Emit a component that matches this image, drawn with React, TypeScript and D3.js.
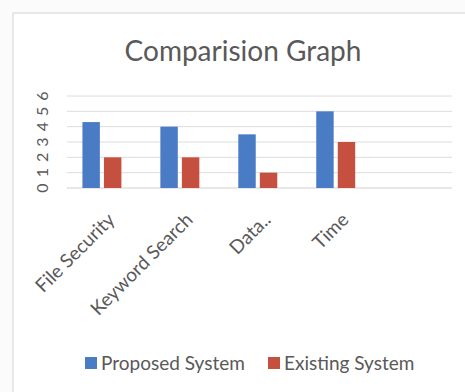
import * as d3 from "d3";

const categories = ["File Security", "Keyword Search", "Data..", "Time", ""];
const proposed = [4.3, 4, 3.5, 5, null];
const existing = [2, 2, 1, 3, null];
const seriesNames = ["Proposed System", "Existing System"];
const seriesColors = ["#4a7cc6", "#c6503f"];
const yTicks = [0, 1, 2, 3, 4, 5, 6];

const W = 465;
const H = 392;
const font = "Lato, 'Open Sans', sans-serif";

export default function App() {
  const x = d3.scaleBand<string>().domain(categories.map((c, i) => c + i)).range([67, 452]).paddingInner(0.5).paddingOuter(0.22).align(0.45);
  const xs = d3.scaleBand<string>().domain(seriesNames).range([0, x.bandwidth()]).paddingInner(0.19);
  const y = d3.scaleLinear().domain([0, 6]).range([188, 96]);
  const step = x.step();
  const bandStart = (i: number) => 67 + i * step;

  const series = [proposed, existing];

  return (
    <svg width={W} height={H} style={{ position: "absolute", left: 0, top: 0 }} fontFamily={font}>
      <rect x={0} y={0} width={W} height={H} fill="#fbfbfb" />
      <rect x={13} y={13} width={470} height={400} fill="#fff" stroke="#d4d4d4" />
      <text x={243} y={61} textAnchor="middle" fontSize={28} fill="#595959">
        Comparision Graph
      </text>

      {yTicks.map((t) => (
        <g key={t}>
          <line x1={67} x2={452} y1={y(t)} y2={y(t)} stroke={t === 0 ? "#cfcfcf" : "#dcdcdc"} strokeWidth={1} />
          <text
            transform={`translate(48,${y(t)}) rotate(-90)`}
            textAnchor="middle"
            fontSize={16}
            fill="#595959"
          >
            {t}
          </text>
        </g>
      ))}

      {categories.map((c, i) => (
        <g key={i} transform={`translate(${x(c + i)},0)`}>
          {series.map((s, j) =>
            s[i] == null ? null : (
              <rect
                key={j}
                x={xs(seriesNames[j])}
                y={y(s[i] as number)}
                width={xs.bandwidth()}
                height={y(0) - y(s[i] as number)}
                fill={seriesColors[j]}
              />
            )
          )}
        </g>
      ))}

      {categories.map((c, i) =>
        c ? (
          <text
            key={"l" + i}
            transform={`translate(${bandStart(i) + step / 2 + 10},${221}) rotate(-45)`}
            textAnchor="end"
            fontSize={19}
            fill="#595959"
          >
            {c}
          </text>
        ) : null
      )}

      {seriesNames.map((n, j) => (
        <g key={n} transform={`translate(${j === 0 ? 85 : 268},357)`}>
          <rect x={0} y={0} width={12} height={12} fill={seriesColors[j]} />
          <text x={16} y={12.5} fontSize={19} fill="#595959">
            {n}
          </text>
        </g>
      ))}
    </svg>
  );
}
